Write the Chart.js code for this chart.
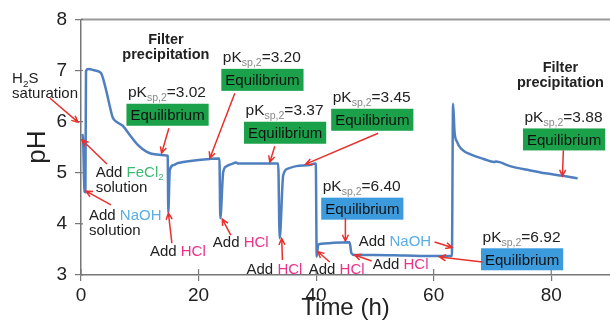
<!DOCTYPE html>
<html>
<head>
<meta charset="utf-8">
<script src="https://cdn.jsdelivr.net/npm/chart.js@4/dist/chart.umd.min.js"></script>
<style>
  html, body { margin: 0; padding: 0; background: #fff; }
  #wrap { width: 610px; height: 326px; position: relative; }
</style>
</head>
<body>
<div id="wrap"><canvas id="phChart"></canvas></div>
<script>
'use strict';

// pH log of the reactor, time in hours
const hours = [0.2, 0.35, 0.6, 0.75, 0.85, 1.2, 2.4, 3.4, 4.2, 4.9, 5.4, 6.0, 7.1, 8.3, 9.7, 11.2, 12.5, 14.6, 14.75,
  14.85, 15.1, 15.7, 16.5, 17.4, 20.0, 21.9, 23.55,
  23.7, 24.2, 24.8, 25.6, 26.4, 26.7, 29.0, 31.0, 33.55,
  33.8, 34.4, 35.2, 36.65, 38.9, 39.8, 39.95,
  40.1, 40.35, 41.0, 43.0, 45.7,
  46.0, 46.6, 50.0, 55.0, 60.0, 63.1,
  63.3, 63.55, 64.0, 64.6, 66.7, 68.5, 70.3, 70.6, 73.0, 76.3, 79.0, 82.0, 84.5];
const pH = [5.76, 5.66, 4.63, 4.62, 6.98, 7.03, 7.0, 6.95, 6.65, 6.3, 6.08, 6.0, 5.92, 5.74, 5.54, 5.41, 5.36, 5.34, 5.33,
  4.22, 5.05, 5.15, 5.19, 5.21, 5.25, 5.27, 5.28,
  4.11, 5.02, 5.13, 5.17, 5.2, 5.18, 5.18, 5.18, 5.18,
  3.72, 4.95, 5.08, 5.13, 5.15, 5.18, 5.17,
  3.36, 3.59, 3.61, 3.63, 3.64,
  3.43, 3.39, 3.39, 3.38, 3.37, 3.37,
  6.35, 5.8, 5.6, 5.48, 5.34, 5.27, 5.21, 5.22, 5.13, 5.05, 4.99, 4.94, 4.89];

const xTicks = [0, 20, 40, 60, 80];
const yTicks = [3, 4, 5, 6, 7, 8];

// equilibrium constants reached in each stage
const pkValues = ['3.02', '3.20', '3.37', '3.45', '6.40', '6.92', '3.88'];

const FONT = "'Liberation Sans', Arial, Helvetica, sans-serif";
const DARK = '#222';
const PINK = '#e8338a';
const SKY = '#5aaee6';
const LEAF = '#3dba72';
const ARROW = '#e8302c';
const BOX_GREEN = '#1ba14a';
const BOX_BLUE = '#3b9bdd';

Chart.defaults.font.family = FONT;

// free text, anchored at its left baseline (or centre for bold titles), in chart units
const notes = [
  { at: [-11.72, 6.75], parts: [['H'], ['2', DARK, true], ['S']] },
  { at: [-11.72, 6.457], parts: [['saturation']] },
  { at: [2.5, 4.92], parts: [['Add '], ['FeCl', LEAF], ['2', LEAF, true]] },
  { at: [2.5, 4.63], parts: [['solution']] },
  { at: [1.36, 4.07], parts: [['Add '], ['NaOH', SKY]] },
  { at: [1.36, 3.78], parts: [['solution']] },
  { at: [11.72, 3.371], parts: [['Add '], ['HCl', PINK]] },
  { at: [22.43, 3.547], parts: [['Add '], ['HCl', PINK]] },
  { at: [28.16, 3.02], parts: [['Add '], ['HCl', PINK]] },
  { at: [38.74, 3.02], parts: [['Add '], ['HCl', PINK]] },
  { at: [49.62, 3.111], parts: [['Add '], ['HCl', PINK]] },
  { at: [47.24, 3.566], parts: [['Add '], ['NaOH', SKY]] },
  { at: [14.44, 7.521], bold: true, parts: [['Filter']] },
  { at: [14.44, 7.229], bold: true, parts: [['precipitation']] },
  { at: [81.56, 6.965], bold: true, parts: [['Filter']] },
  { at: [81.56, 6.672], bold: true, parts: [['precipitation']] }
];

// pointers from the notes to the trace
const arrows = [
  [[-5.27, 6.457], [-0.51, 5.99]],
  [[4.42, 5.17], [0.17, 5.64]],
  [[5.1, 4.37], [0.85, 4.64]],
  [[15.46, 3.625], [14.87, 4.211]],
  [[25.49, 3.781], [24.04, 4.094]],
  [[34.27, 3.293], [34.15, 3.713]],
  [[42.31, 3.254], [40.27, 3.459]],
  [[49.45, 3.273], [46.56, 3.39]],
  [[60.15, 3.645], [63.13, 3.537]]
];

// one pK label + "Equilibrium" box per stage, same order as pkValues
const pkBoxes = [
  { at: [7.99, 6.477], fill: BOX_GREEN, from: [14.95, 5.871], to: [13.71, 5.383] },
  { at: [24.13, 7.16], fill: BOX_GREEN, from: [26.17, 6.555], to: [21.92, 5.285] },
  { at: [27.99, 6.125], fill: BOX_GREEN, from: [32.97, 5.52], to: [32.12, 5.207] },
  { at: [42.82, 6.379], fill: BOX_GREEN, from: [50.55, 5.773], to: [38.23, 5.168] },
  { at: [41.12, 4.64], fill: BOX_BLUE, from: [44.98, 4.113], to: [44.98, 3.664] },
  { at: [68.31, 3.65], fill: BOX_BLUE, from: [68.31, 3.254], to: [61.0, 3.352] },
  { at: [75.45, 5.994], fill: BOX_GREEN, from: [82.07, 5.441], to: [81.9, 4.934] }
];

function drawParts(ctx, x, y, parts, size, bold, center) {
  const weight = bold ? 'bold ' : '';
  let total = 0;
  parts.forEach(p => {
    ctx.font = weight + (p[2] ? size * 0.66 : size) + 'px ' + FONT;
    total += ctx.measureText(p[0]).width;
  });
  let cx = center ? x - total / 2 : x;
  parts.forEach(p => {
    ctx.font = weight + (p[2] ? size * 0.66 : size) + 'px ' + FONT;
    ctx.fillStyle = p[1] || DARK;
    ctx.fillText(p[0], cx, p[2] ? y + 3.5 : y);
    cx += ctx.measureText(p[0]).width;
  });
  return total;
}

function drawArrow(ctx, x1, y1, x2, y2) {
  const a = Math.atan2(y2 - y1, x2 - x1);
  const len = 7, spread = 0.45;
  ctx.beginPath();
  ctx.moveTo(x1, y1);
  ctx.lineTo(x2, y2);
  ctx.moveTo(x2 - len * Math.cos(a - spread), y2 - len * Math.sin(a - spread));
  ctx.lineTo(x2, y2);
  ctx.lineTo(x2 - len * Math.cos(a + spread), y2 - len * Math.sin(a + spread));
  ctx.stroke();
}

const notesPlugin = {
  id: 'notes',
  afterDraw(chart) {
    const ctx = chart.ctx;
    const xs = chart.scales.x, ys = chart.scales.y;
    const area = chart.chartArea;
    const px = v => xs.getPixelForValue(v);
    const py = v => ys.getPixelForValue(v);

    ctx.save();
    ctx.textBaseline = 'alphabetic';
    ctx.textAlign = 'left';

    // frame top and inner halves of the tick marks
    ctx.strokeStyle = '#999';
    ctx.lineWidth = 2;
    ctx.beginPath();
    ctx.moveTo(area.left, area.top);
    ctx.lineTo(chart.width, area.top);
    ctx.stroke();
    ctx.strokeStyle = '#777';
    ctx.lineWidth = 1.2;
    ctx.beginPath();
    xTicks.forEach(v => { ctx.moveTo(px(v), area.bottom); ctx.lineTo(px(v), area.bottom - 6); });
    yTicks.forEach(v => { ctx.moveTo(area.left, py(v)); ctx.lineTo(area.left + 2, py(v)); });
    ctx.stroke();

    notes.forEach(n => drawParts(ctx, px(n.at[0]), py(n.at[1]), n.parts, n.bold ? 14.5 : 15, n.bold, n.bold));

    ctx.strokeStyle = ARROW;
    ctx.lineWidth = 1.5;
    arrows.forEach(a => drawArrow(ctx, px(a[0][0]), py(a[0][1]), px(a[1][0]), py(a[1][1])));

    pkBoxes.forEach((b, i) => {
      const x = px(b.at[0]), y = py(b.at[1]);
      ctx.font = '15.5px ' + FONT;
      ctx.fillStyle = DARK;
      ctx.fillText('pK', x, y);
      let cx = x + ctx.measureText('pK').width;
      ctx.font = '10.5px ' + FONT;
      ctx.fillStyle = '#888';
      ctx.fillText('sp,2', cx, y + 4);
      cx += ctx.measureText('sp,2').width;
      ctx.font = '15.5px ' + FONT;
      ctx.fillStyle = DARK;
      ctx.fillText('=' + pkValues[i], cx, y);

      ctx.font = '15px ' + FONT;
      const w = ctx.measureText('Equilibrium').width + 8;
      const bx = x - 1.5, by = y + 6.5;
      ctx.fillStyle = b.fill;
      ctx.fillRect(bx, by, w, 22);
      ctx.fillStyle = '#111';
      ctx.fillText('Equilibrium', bx + 4, by + 16.5);

      ctx.strokeStyle = ARROW;
      ctx.lineWidth = 1.5;
      drawArrow(ctx, px(b.from[0]), py(b.from[1]), px(b.to[0]), py(b.to[1]));
    });
    ctx.restore();
  }
};

new Chart(document.getElementById('phChart'), {
  type: 'line',
  data: {
    datasets: [{
      data: hours.map((h, i) => ({ x: h, y: pH[i] })),
      borderColor: '#4f7fbf',
      borderWidth: 2.5,
      pointRadius: 0,
      fill: false,
      cubicInterpolationMode: 'monotone'
    }]
  },
  options: {
    responsive: true,
    maintainAspectRatio: false,
    animation: false,
    layout: { padding: { top: 19, left: 0, right: 0, bottom: 0 } },
    plugins: { legend: { display: false }, tooltip: { enabled: false } },
    scales: {
      x: {
        type: 'linear',
        min: 0,
        max: 90,
        afterBuildTicks: scale => { scale.ticks = xTicks.map(v => ({ value: v })); },
        afterFit: scale => { scale.height = 51; },
        grid: { drawOnChartArea: false, tickLength: 6, color: '#777', lineWidth: 1.2 },
        border: { color: '#777', width: 1.5 },
        ticks: { font: { size: 19 }, color: DARK, padding: 3, maxRotation: 0 },
        title: { display: true, text: 'Time (h)', font: { size: 24 }, color: DARK, padding: { top: 0, bottom: 3 } }
      },
      y: {
        min: 3,
        max: 8,
        afterBuildTicks: scale => { scale.ticks = yTicks.map(v => ({ value: v })); },
        afterFit: scale => { scale.width = 81; },
        grid: { drawOnChartArea: false, tickLength: 6, color: '#777', lineWidth: 1.2 },
        border: { color: '#777', width: 1.5 },
        ticks: { font: { size: 19 }, color: DARK, padding: 8 },
        title: { display: true, text: 'pH', font: { size: 26 }, color: DARK, padding: { top: 22, bottom: 0 } }
      }
    }
  },
  plugins: [notesPlugin]
});
</script>
</body>
</html>
